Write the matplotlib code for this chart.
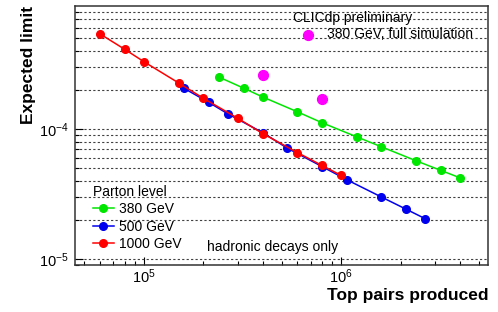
import matplotlib
matplotlib.use("Agg")
import matplotlib.pyplot as plt
from matplotlib.ticker import LogLocator, NullFormatter

plt.rcParams["font.family"] = ["Liberation Sans", "DejaVu Sans"]
plt.rcParams["mathtext.default"] = "regular"

# top pairs produced vs. expected limit, parton level
x_380 = [2.4e5, 3.2e5, 4.0e5, 6.0e5, 8.0e5, 1.2e6, 1.6e6, 2.4e6, 3.2e6, 4.0e6]
y_380 = [2.52e-4, 2.07e-4, 1.77e-4, 1.36e-4, 1.12e-4, 8.72e-5, 7.31e-5, 5.7e-5, 4.81e-5, 4.22e-5]
x_500 = [1.6e5, 2.13e5, 2.67e5, 4.0e5, 5.33e5, 8.0e5, 1.07e6, 1.6e6, 2.13e6, 2.67e6]
y_500 = [2.06e-4, 1.61e-4, 1.31e-4, 9.4e-5, 7.14e-5, 5.15e-5, 4.07e-5, 3.0e-5, 2.42e-5, 2.04e-5]
x_1000 = [6.0e4, 8.0e4, 1.0e5, 1.5e5, 2.0e5, 3.0e5, 4.0e5, 6.0e5, 8.0e5, 1.0e6]
y_1000 = [5.41e-4, 4.12e-4, 3.31e-4, 2.27e-4, 1.73e-4, 1.21e-4, 9.25e-5, 6.6e-5, 5.25e-5, 4.4e-5]
# 380 GeV full simulation
x_full = [4.0e5, 8.0e5]
y_full = [2.6e-4, 1.71e-4]

fig = plt.figure(figsize=(4.98, 3.12), dpi=100)
ax = fig.add_axes([0.15, 0.151, 0.83, 0.83])

style = dict(marker="o", markersize=5.5, linewidth=1.1)
l380, = ax.plot(x_380, y_380, color="#00e600", label="380 GeV", **style)
l500, = ax.plot(x_500, y_500, color="#0000ee", label="500 GeV", **style)
l1000, = ax.plot(x_1000, y_1000, color="#ff0000", label="1000 GeV", **style)
full = ax.scatter(x_full, y_full, s=50, color="#ff00ff", zorder=3,
                  label="380 GeV, full simulation")

ax.set_xscale("log")
ax.set_yscale("log")
ax.set_xlim(4.46e4, 5.55e6)
ax.set_ylim(9.0e-6, 8.9e-4)
ax.xaxis.set_minor_locator(LogLocator(base=10, subs=range(2, 10)))
ax.yaxis.set_minor_locator(LogLocator(base=10, subs=range(2, 10)))
ax.xaxis.set_minor_formatter(NullFormatter())
ax.yaxis.set_minor_formatter(NullFormatter())

ax.yaxis.grid(True, which="both", color="0.25", linewidth=0.8, linestyle=(0, (2, 2)))
ax.set_axisbelow(True)

ax.tick_params(which="both", direction="in", top=False, right=False, labelsize=10.5)
ax.tick_params(which="major", length=5.5, width=0.8)
ax.tick_params(which="minor", length=3, width=0.8)
ax.tick_params(axis="x", pad=2)
ax.tick_params(axis="y", pad=4)
for sp in ax.spines.values():
    sp.set_linewidth(1.1)
    sp.set_color("0.2")

ax.set_xlabel("Top pairs produced", fontsize=12.5, fontweight="bold", loc="right")
ax.xaxis.set_label_coords(1.0, -0.088)
ax.set_ylabel("Expected limit", fontsize=12.5, fontweight="bold", loc="top")
ax.yaxis.set_label_coords(-0.093, 1.0)

leg = ax.legend(handles=[l380, l500, l1000], title="Parton level", loc="upper left",
                bbox_to_anchor=(0.044, 0.31), frameon=False, fontsize=10,
                title_fontsize=10, alignment="left", borderpad=0, borderaxespad=0,
                handlelength=1.5, handletextpad=0.4, labelspacing=0.25)
ax.add_artist(leg)
ax.legend(handles=[full], loc="upper left", bbox_to_anchor=(0.548, 0.918),
          frameon=False, fontsize=10, borderpad=0, borderaxespad=0,
          handlelength=1.0, handletextpad=0.85, scatterpoints=1)

ax.text(0.528, 0.954, "CLICdp preliminary", transform=ax.transAxes,
        fontsize=10, va="center", ha="left")
ax.text(0.32, 0.0707, "hadronic decays only", transform=ax.transAxes,
        fontsize=10, va="center", ha="left")

fig.savefig("out.png", dpi=100)
